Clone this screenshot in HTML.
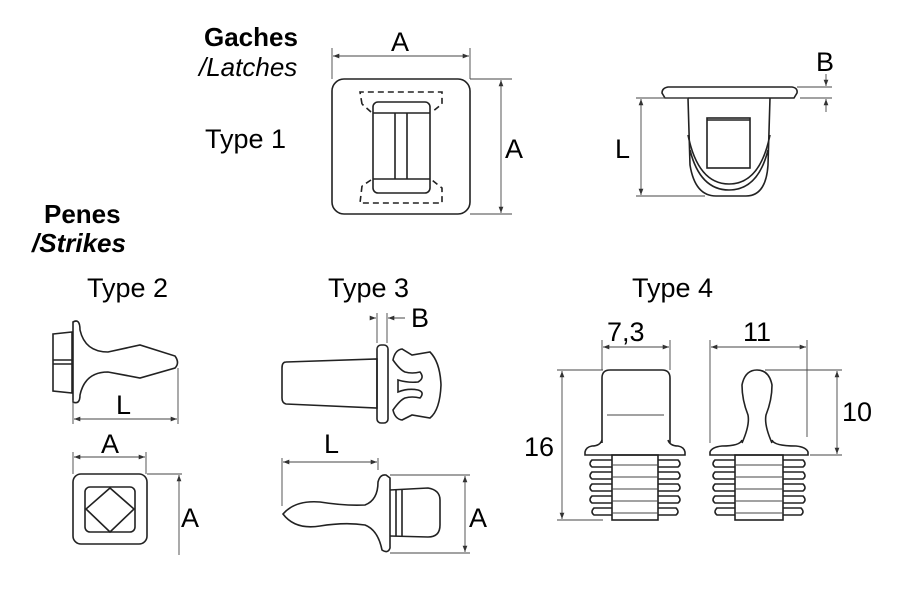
<!DOCTYPE html>
<html><head><meta charset="utf-8"><style>
html,body{margin:0;padding:0;background:#fff}
svg{display:block}
text{font-family:"Liberation Sans",sans-serif;fill:#000;font-size:27px}
.o{fill:none;stroke:#222;stroke-width:1.6}
.d{fill:none;stroke:#444;stroke-width:0.9}
.ds{fill:none;stroke:#222;stroke-width:1.6;stroke-dasharray:6 4}
</style></head><body>
<svg width="900" height="600" viewBox="0 0 900 600" xmlns="http://www.w3.org/2000/svg">
<defs><marker id="a" viewBox="0 0 8 8" refX="8" refY="4" markerWidth="7" markerHeight="7" orient="auto-start-reverse"><path d="M0,1 L8,4 L0,7z" fill="#333"/></marker></defs>

<!-- labels -->
<text x="204" y="46" font-weight="bold" style="font-size:26px">Gaches</text>
<text x="199" y="76" font-style="italic" style="font-size:26px">/Latches</text>
<text x="205" y="148">Type 1</text>
<text x="44" y="223" font-weight="bold" style="font-size:26px">Penes</text>
<text x="32" y="252" font-weight="bold" font-style="italic" style="font-size:26px">/Strikes</text>
<text x="87" y="297">Type 2</text>
<text x="328" y="297">Type 3</text>
<text x="632" y="297">Type 4</text>

<!-- Type 1 front -->
<rect x="332" y="79" width="138" height="135" rx="12" class="o"/>
<rect x="373" y="102" width="57" height="91" rx="5" class="o"/>
<line x1="373" y1="113" x2="430" y2="113" class="o"/>
<line x1="373" y1="179" x2="430" y2="179" class="o"/>
<line x1="395" y1="113" x2="395" y2="179" class="o"/>
<line x1="407" y1="113" x2="407" y2="179" class="o"/>
<path d="M362,104 L360,92 L442,92 L442,104 L432,112 M371,112 L362,104" class="ds"/>
<path d="M362,186 L360,203 L442,203 L442,188 L432,180 M371,180 L362,186" class="ds"/>
<line x1="332" y1="48" x2="332" y2="79" class="d"/>
<line x1="470" y1="48" x2="470" y2="79" class="d"/>
<line x1="333" y1="56" x2="469" y2="56" class="d" marker-start="url(#a)" marker-end="url(#a)"/>
<text x="391" y="51">A</text>
<line x1="470" y1="79" x2="512" y2="79" class="d"/>
<line x1="470" y1="214" x2="512" y2="214" class="d"/>
<line x1="501" y1="80" x2="501" y2="213" class="d" marker-start="url(#a)" marker-end="url(#a)"/>
<text x="505" y="158">A</text>

<!-- Type 1 side -->
<path d="M668,87 L792,87 Q798,88 797,93 L794,98 L665,98 L662,93 Q662,88 668,87Z" class="o"/>
<path d="M688,98 L690,165 Q695,196 716,196 L746,196 Q766,196 768,165 L770,98" class="o"/>
<path d="M688,135 Q698,184 729,184 Q760,184 770,135" class="o"/>
<path d="M690,150 Q700,190 729,190 Q758,190 768,150" class="o"/>
<rect x="707" y="118" width="43" height="50" class="o"/>
<line x1="707" y1="120" x2="750" y2="120" class="o" stroke-width="3"/>
<line x1="636" y1="98" x2="688" y2="98" class="d"/>
<line x1="636" y1="196" x2="705" y2="196" class="d"/>
<line x1="641" y1="99" x2="641" y2="195" class="d" marker-start="url(#a)" marker-end="url(#a)"/>
<text x="615" y="158">L</text>
<line x1="797" y1="87" x2="832" y2="87" class="d"/>
<line x1="800" y1="98" x2="832" y2="98" class="d"/>
<line x1="826" y1="74" x2="826" y2="86" class="d" marker-end="url(#a)"/>
<line x1="826" y1="112" x2="826" y2="99" class="d" marker-end="url(#a)"/>
<text x="816" y="71">B</text>

<!-- Type 2 side -->
<path d="M53,334 L72,332 L72,393 L53,391Z" class="o"/>
<line x1="53" y1="360" x2="72" y2="360" class="o"/>
<line x1="53" y1="364" x2="72" y2="364" class="o"/>
<path d="M73,322 Q80,318 80,330 Q85,352 108,352 L140,345 L175,356 Q180,363 175,368 L140,378 L108,372 Q85,372 80,395 Q80,405 73,402Z" class="o"/>
<line x1="73" y1="400" x2="73" y2="424" class="d"/>
<line x1="178" y1="368" x2="178" y2="424" class="d"/>
<line x1="74" y1="419" x2="177" y2="419" class="d" marker-start="url(#a)" marker-end="url(#a)"/>
<text x="116" y="414">L</text>
<!-- Type 2 front -->
<line x1="73" y1="452" x2="73" y2="474" class="d"/>
<line x1="146" y1="452" x2="146" y2="474" class="d"/>
<line x1="74" y1="457" x2="145" y2="457" class="d" marker-start="url(#a)" marker-end="url(#a)"/>
<text x="101" y="453">A</text>
<rect x="73" y="474" width="74" height="70" rx="8" class="o"/>
<rect x="85" y="487" width="50" height="45" rx="5" class="o"/>
<path d="M110,488 L134,509 L110,532 L86,509Z" class="o"/>
<line x1="147" y1="474" x2="182" y2="474" class="d"/>
<line x1="179" y1="475" x2="179" y2="555" class="d" marker-start="url(#a)"/>
<text x="181" y="527">A</text>

<!-- Type 3 top -->
<path d="M286,362 L377,359 L377,408 L286,404 Q282,403 282,398 L282,368 Q282,362 286,362Z" class="o"/>
<rect x="377" y="345" width="11" height="78" rx="4" class="o"/>
<path d="M393,360 Q395,350 402,349 L412,355 L430,352 Q440,362 441,385 Q440,410 430,418 L412,415 L402,420 Q395,419 393,410 Q400,400 405,398 Q412,396 420,398 Q425,392 418,390 Q408,388 398,392 L398,380 Q408,383 418,382 Q425,378 420,372 Q412,374 405,372 Q400,370 393,360Z" class="o"/>
<line x1="377" y1="313" x2="377" y2="343" class="d"/>
<line x1="387" y1="313" x2="387" y2="343" class="d"/>
<line x1="370" y1="318" x2="376" y2="318" class="d" marker-end="url(#a)"/>
<line x1="405" y1="318" x2="388" y2="318" class="d" marker-end="url(#a)"/>
<text x="411" y="327">B</text>
<!-- Type 3 bottom -->
<line x1="282" y1="458" x2="282" y2="506" class="d"/>
<line x1="378" y1="458" x2="378" y2="470" class="d"/>
<line x1="283" y1="462" x2="377" y2="462" class="d" marker-start="url(#a)" marker-end="url(#a)"/>
<text x="324" y="453">L</text>
<path d="M283,514 Q295,500 320,502 Q345,506 365,505 Q378,500 378,482 Q380,474 386,475 L390,478 L390,548 Q388,554 382,550 Q378,530 365,525 Q345,522 320,526 Q295,530 283,514Z" class="o"/>
<path d="M390,490 L428,488 Q440,490 440,500 L440,525 Q440,537 428,537 L390,536" class="o"/>
<line x1="396" y1="490" x2="396" y2="536" class="o"/>
<line x1="402" y1="490" x2="402" y2="536" class="o"/>
<line x1="390" y1="475" x2="470" y2="475" class="d"/>
<line x1="390" y1="553" x2="470" y2="553" class="d"/>
<line x1="465" y1="476" x2="465" y2="552" class="d" marker-start="url(#a)" marker-end="url(#a)"/>
<text x="469" y="527">A</text>

<!-- Type 4 left -->
<path d="M602,443 L602,378 Q602,370 610,370 L662,370 Q670,370 670,378 L670,443" class="o"/>
<line x1="607" y1="415" x2="664" y2="415" class="d"/>
<path d="M602,440 Q600,446 592,446 Q586,447 585,452 L585,455 L685,455 L685,452 Q684,447 678,446 Q670,446 668,440" class="o"/>
<rect x="612" y="455" width="46" height="65" class="o"/>
<g class="o">
<path d="M612,460 L592,460 Q588,464 592,467 L612,467"/><path d="M612,472 L592,472 Q588,476 592,479 L612,479"/><path d="M612,484 L592,484 Q588,488 592,491 L612,491"/><path d="M612,496 L592,496 Q588,500 592,503 L612,503"/><path d="M612,508 L594,508 Q590,512 594,515 L612,515"/>
<path d="M658,460 L678,460 Q682,464 678,467 L658,467"/><path d="M658,472 L678,472 Q682,476 678,479 L658,479"/><path d="M658,484 L678,484 Q682,488 678,491 L658,491"/><path d="M658,496 L678,496 Q682,500 678,503 L658,503"/><path d="M658,508 L676,508 Q680,512 676,515 L658,515"/>
</g>
<g class="d"><line x1="612" y1="465" x2="658" y2="465"/><line x1="612" y1="477" x2="658" y2="477"/><line x1="612" y1="489" x2="658" y2="489"/><line x1="612" y1="501" x2="658" y2="501"/><line x1="612" y1="513" x2="658" y2="513"/></g>
<line x1="602" y1="340" x2="602" y2="370" class="d"/>
<line x1="670" y1="340" x2="670" y2="370" class="d"/>
<line x1="603" y1="347" x2="669" y2="347" class="d" marker-start="url(#a)" marker-end="url(#a)"/>
<text x="607" y="341">7,3</text>
<line x1="557" y1="370" x2="603" y2="370" class="d"/>
<line x1="557" y1="520" x2="603" y2="520" class="d"/>
<line x1="562" y1="371" x2="562" y2="519" class="d" marker-start="url(#a)" marker-end="url(#a)"/>
<text x="524" y="456">16</text>

<!-- Type 4 right -->
<path d="M742,443 Q750,425 748,415 Q742,400 742,385 Q745,370 757,370 Q769,370 772,385 Q772,400 766,415 Q764,425 772,443" class="o"/>
<path d="M742,440 Q740,446 722,446 Q712,447 710,452 L710,455 L808,455 L808,452 Q806,447 796,446 Q774,446 772,440" class="o"/>
<rect x="735" y="455" width="48" height="65" class="o"/>
<g class="o">
<path d="M735,460 L715,460 Q711,464 715,467 L735,467"/><path d="M735,472 L715,472 Q711,476 715,479 L735,479"/><path d="M735,484 L715,484 Q711,488 715,491 L735,491"/><path d="M735,496 L715,496 Q711,500 715,503 L735,503"/><path d="M735,508 L717,508 Q713,512 717,515 L735,515"/>
<path d="M783,460 L803,460 Q807,464 803,467 L783,467"/><path d="M783,472 L803,472 Q807,476 803,479 L783,479"/><path d="M783,484 L803,484 Q807,488 803,491 L783,491"/><path d="M783,496 L803,496 Q807,500 803,503 L783,503"/><path d="M783,508 L801,508 Q805,512 801,515 L783,515"/>
</g>
<g class="d"><line x1="735" y1="465" x2="783" y2="465"/><line x1="735" y1="477" x2="783" y2="477"/><line x1="735" y1="489" x2="783" y2="489"/><line x1="735" y1="501" x2="783" y2="501"/><line x1="735" y1="513" x2="783" y2="513"/></g>
<line x1="710" y1="340" x2="710" y2="443" class="d"/>
<line x1="807" y1="340" x2="807" y2="437" class="d"/>
<line x1="711" y1="347" x2="806" y2="347" class="d" marker-start="url(#a)" marker-end="url(#a)"/>
<text x="743" y="341">11</text>
<line x1="765" y1="370" x2="842" y2="370" class="d"/>
<line x1="810" y1="455" x2="842" y2="455" class="d"/>
<line x1="837" y1="371" x2="837" y2="454" class="d" marker-start="url(#a)" marker-end="url(#a)"/>
<text x="842" y="421">10</text>
</svg>
</body></html>
